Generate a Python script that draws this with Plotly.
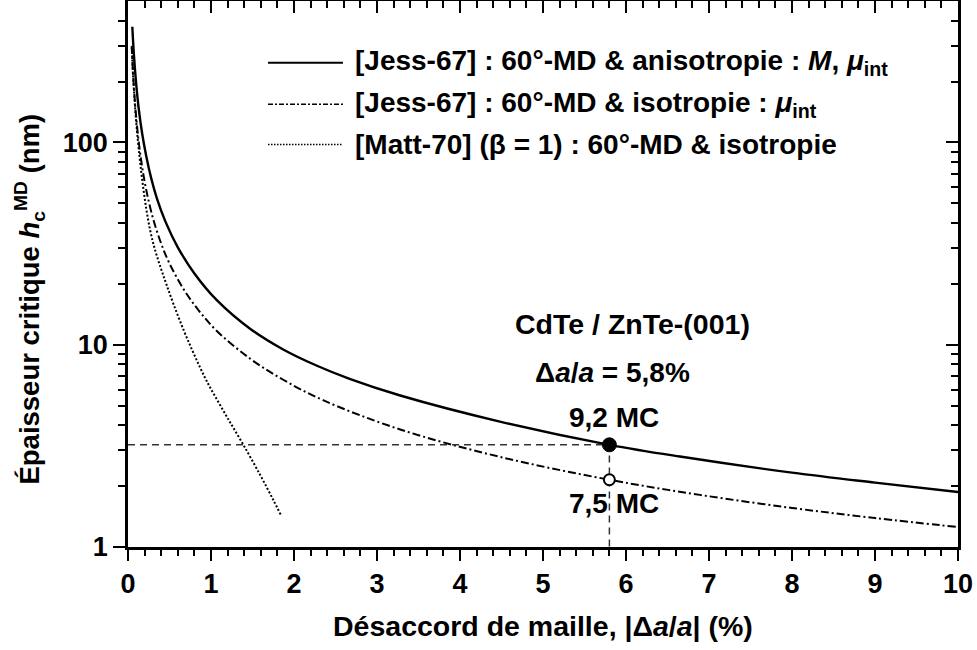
import math
import plotly.graph_objects as go

# ---------------- data ----------------
# [Jess-67] : 60°-MD & anisotropie (solid)
aniso_x = [0.052, 0.07, 0.1, 0.13, 0.17, 0.22, 0.28, 0.35, 0.45, 0.6, 0.8, 1.07,
           1.47, 1.87, 2.27, 2.67, 3.28, 4.48, 5.8, 6.65, 8.0, 9.0, 10.0]
aniso_y = [373, 276, 192, 146, 111, 85.5, 66.4, 52.6, 40.7, 30.3, 22.5, 16.6,
           12.0, 9.47, 7.89, 6.78, 5.61, 4.17, 3.2, 2.80, 2.33, 2.08, 1.87]

# [Jess-67] : 60°-MD & isotropie (dash-dot)
iso_x = [0.045, 0.06, 0.08, 0.1, 0.13, 0.17, 0.22, 0.3, 0.4, 0.5, 0.667, 0.85,
         1.07, 1.47, 1.87, 2.35, 3.28, 4.48, 5.8, 6.89, 8.0, 9.0, 10.0]
iso_y = [300, 223, 166, 131.5, 100, 75.9, 58.2, 42.3, 31.6, 25.2, 18.9, 14.8,
         11.7, 8.54, 6.71, 5.32, 3.81, 2.79, 2.15, 1.81, 1.56, 1.39, 1.255]

# [Matt-70] (beta = 1) (dotted)
matt_x = [0.045, 0.06, 0.08, 0.1, 0.13, 0.17, 0.22, 0.27, 0.325, 0.4, 0.466, 0.55,
          0.667, 0.77, 0.867, 0.948, 1.05, 1.2, 1.39, 1.6, 1.75, 1.843]
matt_y = [295, 217, 160, 124, 92, 66, 47, 36.3, 29.5, 23.6, 19.7, 15.8,
          11.9, 9.47, 7.74, 6.61, 5.55, 4.34, 3.2, 2.24, 1.71, 1.436]

# CdTe / ZnTe-(001) mismatch point
mismatch = 5.8
h_aniso = 3.2
h_iso = 2.15

legend_names = [
    "[Jess-67] : 60°-MD & anisotropie : <i>M</i>, <i>μ</i><sub>int</sub>",
    "[Jess-67] : 60°-MD & isotropie : <i>μ</i><sub>int</sub>",
    "[Matt-70] (β = 1) : 60°-MD & isotropie",
]

FONT = "Liberation Sans, Arial, Helvetica, sans-serif"
YMAX = 500

fig = go.Figure()

fig.add_trace(go.Scatter(x=aniso_x, y=aniso_y, mode="lines", line_shape="spline",
                         line=dict(color="black", width=2.4), showlegend=False))
fig.add_trace(go.Scatter(x=iso_x, y=iso_y, mode="lines", line_shape="spline",
                         line=dict(color="black", width=2, dash="8px,3px,2px,3px"),
                         showlegend=False))
fig.add_trace(go.Scatter(x=matt_x, y=matt_y, mode="lines", line_shape="spline",
                         line=dict(color="black", width=2, dash="2px,2px"),
                         showlegend=False))

# dashed guide lines
fig.add_trace(go.Scatter(x=[0, mismatch, mismatch], y=[h_aniso, h_aniso, 1],
                         mode="lines", line=dict(color="#333333", width=1.5, dash="7px,5px"),
                         showlegend=False))
# markers
fig.add_trace(go.Scatter(x=[mismatch], y=[h_aniso], mode="markers",
                         marker=dict(symbol="circle", size=14, color="black",
                                     line=dict(color="black", width=1)),
                         showlegend=False))
fig.add_trace(go.Scatter(x=[mismatch], y=[h_iso], mode="markers",
                         marker=dict(symbol="circle", size=11, color="white",
                                     line=dict(color="black", width=2)),
                         showlegend=False))

# invisible trace for mirror axes
fig.add_trace(go.Scatter(x=[0, 10], y=[1, YMAX], xaxis="x2", yaxis="y2", mode="markers",
                         marker=dict(opacity=0), hoverinfo="skip", showlegend=False))

tickfont = dict(family=FONT, size=27, color="black", weight="bold")
minor_y = [2, 3, 4, 5, 6, 7, 8, 9, 20, 30, 40, 50, 60, 70, 80, 90, 200, 300, 400]
yrange = [0, math.log10(YMAX)]

fig.update_layout(
    width=977, height=650,
    margin=dict(l=128, r=19, t=1, b=103, autoexpand=False),
    plot_bgcolor="white", paper_bgcolor="white",
    showlegend=False,
    xaxis=dict(range=[0, 10], showline=True, linecolor="black", linewidth=2.5, mirror=True,
               ticks="outside", ticklen=11, tickwidth=2, tickcolor="black", dtick=1, tick0=0,
               minor=dict(dtick=0.2, tick0=0, ticks="outside", ticklen=6, tickwidth=2,
                          tickcolor="black"),
               showgrid=False, zeroline=False, tickfont=tickfont, automargin=False),
    yaxis=dict(type="log", range=yrange, showline=True, linecolor="black", linewidth=2.5,
               mirror=True, ticks="outside", ticklen=12, tickwidth=2, tickcolor="black",
               tickmode="array", tickvals=[1, 10, 100], ticktext=["1", "10", "100"],
               minor=dict(tickmode="array", tickvals=minor_y, ticks="outside", ticklen=7,
                          tickwidth=2, tickcolor="black"),
               showgrid=False, zeroline=False, tickfont=tickfont, automargin=False),
    xaxis2=dict(overlaying="x", side="top", anchor="y", range=[0, 10], showline=False,
                ticks="inside", ticklen=12, tickwidth=2, tickcolor="black", dtick=1, tick0=0,
                minor=dict(dtick=0.2, tick0=0, ticks="inside", ticklen=7, tickwidth=2,
                           tickcolor="black"),
                showticklabels=False, showgrid=False, zeroline=False, automargin=False),
    yaxis2=dict(overlaying="y", side="right", anchor="x", type="log", range=yrange,
                showline=False, ticks="inside", ticklen=12, tickwidth=2, tickcolor="black",
                tickmode="array", tickvals=[1, 10, 100],
                minor=dict(tickmode="array", tickvals=minor_y, ticks="inside", ticklen=7,
                           tickwidth=2, tickcolor="black"),
                showticklabels=False, showgrid=False, zeroline=False, automargin=False),
)

txt = dict(family=FONT, size=28, color="black", weight="bold")
xtitle_font = dict(family=FONT, size=28.5, color="black", weight="bold")
ytitle_font = dict(family=FONT, size=27.5, color="black", weight="bold")

# axis titles
fig.add_annotation(xref="paper", yref="paper", x=0.5, y=-0.1447, xanchor="center",
                   yanchor="middle", showarrow=False, font=xtitle_font,
                   text="Désaccord de maille, |Δ<i>a</i>/<i>a</i>| (%)")
fig.add_annotation(xref="paper", yref="paper", x=-0.1193, y=0.455, xanchor="center",
                   yanchor="middle", showarrow=False, font=ytitle_font, textangle=-90,
                   text="Épaisseur critique <i>h</i><sub>c</sub><sup>MD</sup> (nm)")

# text labels in the plot
fig.add_annotation(x=6.08, y=math.log10(12.7), showarrow=False,
                   font=dict(family=FONT, size=28.5, color="black", weight="bold"),
                   text="CdTe / ZnTe-(001)", xanchor="center", yanchor="middle")
fig.add_annotation(x=5.84, y=math.log10(7.25), showarrow=False, font=txt,
                   text="Δ<i>a</i>/<i>a</i> = 5,8%", xanchor="center", yanchor="middle")
fig.add_annotation(x=5.85, y=math.log10(4.35), showarrow=False, font=txt,
                   text="9,2 MC", xanchor="center", yanchor="middle")
fig.add_annotation(x=5.85, y=math.log10(1.64), showarrow=False, font=txt,
                   text="7,5 MC", xanchor="center", yanchor="middle")

# manual legend
leg_rows = [0.887, 0.811, 0.737]
leg_styles = [dict(color="black", width=2, dash="solid"),
              dict(color="black", width=1.5, dash="5px,2px,2px,2px"),
              dict(color="black", width=1.5, dash="1.5px,1.5px")]
for ry, name, st in zip(leg_rows, legend_names, leg_styles):
    fig.add_shape(type="line", xref="paper", yref="paper", x0=0.1687, x1=0.259,
                  y0=ry, y1=ry, line=st)
    fig.add_annotation(xref="paper", yref="paper", x=0.2707, y=ry, xanchor="left",
                       yanchor="middle", showarrow=False, font=txt, text=name)

fig.write_html("out.html", config={"displayModeBar": False},
               post_script="document.body.style.margin='0';document.body.style.overflow='hidden';")
